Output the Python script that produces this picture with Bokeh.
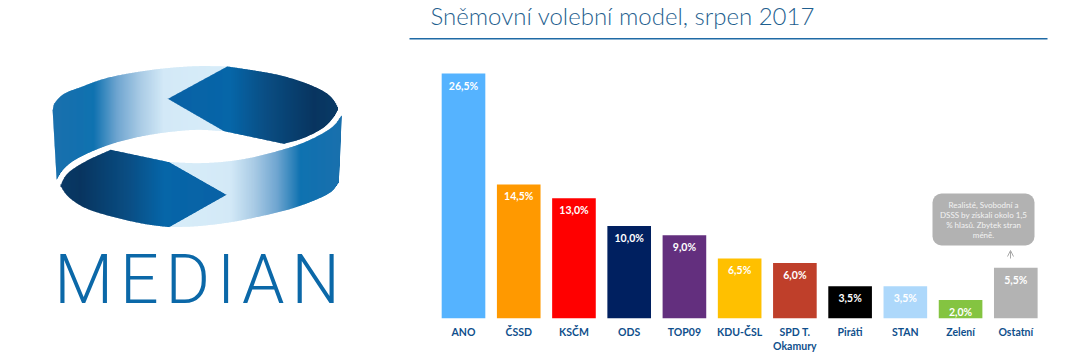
from bokeh.plotting import figure
from bokeh.layouts import row
from bokeh.embed import file_html
from bokeh.resources import INLINE
from bokeh.models import Range1d, FixedTicker, Label, BoxAnnotation, Arrow, OpenHead, ColumnDataSource
from bokeh.core.properties import value
import numpy as np

# ---------- chart data ----------
parties = ["ANO", "ČSSD", "KSČM", "ODS", "TOP09", "KDU-ČSL", "SPD T.\nOkamury", "Piráti", "STAN", "Zelení", "Ostatní"]
shares = [26.5, 14.5, 13.0, 10.0, 9.0, 6.5, 6.0, 3.5, 3.5, 2.0, 5.5]
share_labels = ["26,5%", "14,5%", "13,0%", "10,0%", "9,0%", "6,5%", "6,0%", "3,5%", "3,5%", "2,0%", "5,5%"]
bar_colors = ["#55b3ff", "#ff9900", "#ff0000", "#002060", "#632f7e", "#ffc000", "#bf3f2a", "#000000", "#add8fb", "#84c441", "#b3b3b3"]
title_text = "Sněmovní volební model, srpen 2017"
note_lines = ["Realisté, Svobodní a", "DSSS by získali okolo 1,5", "% hlasů. Zbytek stran", "méně."]
logo_word = "M\u200aE\u200aD\u200aI\u200aA\u200aN"

H = 357
LEFT_W = 400
RIGHT_W = 660
BASE_PAGE_Y = 318


# ---------- logo (decoration, in zoomed-reference pixel coordinates) ----------
def smooth(pts, n=14):
    pts = np.array(pts, float)
    p = np.vstack([2 * pts[0] - pts[1], pts, 2 * pts[-1] - pts[-2]])
    out = []
    for i in range(1, len(p) - 2):
        for t in np.linspace(0, 1, n, endpoint=False):
            a, b, c, d = p[i - 1], p[i], p[i + 1], p[i + 2]
            out.append(0.5 * (2 * b + (c - a) * t + (2 * a - 5 * b + 4 * c - d) * t**2 + (3 * b - a - 3 * c + d) * t**3))
    out.append(pts[-1])
    return out


def shape(*pieces):
    o = []
    for piece in pieces:
        o += smooth(piece)
    a = np.array(o)
    return 30 + a[:, 0] / 3, 60 + a[:, 1] / 3


band_l = ["#1a70ad", "#0f72b0", "#6fa5d0", "#a9cbe5", "#d3e9f7", "#d8edf9"]
dark = ["#0a3a66", "#083560", "#0a4f85", "#0666a8", "#0a62a6"]

logo_shapes = [
    (shape([(78, 358), (66, 150)],
           [(66, 150), (72, 128), (100, 100), (150, 80), (220, 55), (300, 38), (400, 24), (500, 17), (590, 18)],
           [(590, 18), (412, 115)], [(412, 115), (580, 212)],
           [(580, 212), (500, 208), (420, 214), (340, 226), (260, 245), (190, 270), (130, 300), (95, 330), (78, 358)]),
     [66, 190, 260, 330, 400, 600], band_l),
    (shape([(590, 18), (412, 115)], [(412, 115), (580, 212)], [(580, 212), (760, 250)],
           [(760, 250), (820, 232), (880, 200), (915, 160), (918, 135), (890, 100), (830, 70), (750, 45), (670, 30), (590, 18)]),
     [412, 600, 700, 850, 920], dark[::-1]),
    (shape([(933, 165), (925, 365)],
           [(925, 365), (900, 395), (850, 420), (780, 445), (700, 465), (600, 485), (500, 497), (415, 500)],
           [(415, 500), (587, 403)], [(587, 403), (415, 305)],
           [(415, 305), (500, 308), (580, 304), (660, 292), (740, 272), (810, 250), (870, 222), (910, 195), (933, 165)]),
     [415, 600, 670, 740, 810, 935], band_l[::-1]),
    (shape([(240, 268), (415, 305)], [(415, 305), (587, 403)], [(587, 403), (415, 500)],
           [(415, 500), (340, 490), (250, 470), (170, 445), (120, 415), (95, 385), (92, 370), (115, 335), (170, 300), (240, 268)]),
     [90, 150, 300, 400, 590], dark),
]


def hex_rgb(h):
    return np.array([int(h[i:i + 2], 16) for i in (1, 3, 5)], float)


def grad(zx, stops, cols):
    c = np.array([hex_rgb(k) for k in cols])
    return "#%02x%02x%02x" % tuple(int(round(np.interp(zx, stops, c[:, j]))) for j in range(3))


def crossings(px, py, x):
    x0, x1 = px[:-1], px[1:]
    m = (x0 <= x) != (x1 <= x)
    ys = py[:-1][m] + (x - x0[m]) / (x1[m] - x0[m]) * (py[1:][m] - py[:-1][m])
    return np.sort(ys)


sx, sy, sc = [], [], []
OVER = 0.5
for (px, py), stops, cols in logo_shapes:
    px = np.append(px, px[0])
    py = np.append(py, py[0])
    for x in range(int(px.min()), int(px.max()) + 1):
        a = crossings(px, py, x + 0.001)
        b = crossings(px, py, x + 0.999)
        col = grad((x + 0.5 - 30) * 3, stops, cols)
        if len(a) == len(b) and len(a) >= 2:
            for i in range(0, len(a) - 1, 2):
                sx.append([x, x + 1 + OVER, x + 1 + OVER, x])
                sy.append([a[i], b[i], b[i + 1], a[i + 1]])
                sc.append(col)
        else:
            c = crossings(px, py, x + 0.5)
            for i in range(0, len(c) - 1, 2):
                sx.append([x, x + 1 + OVER, x + 1 + OVER, x])
                sy.append([c[i], c[i], c[i + 1], c[i + 1]])
                sc.append(col)

logo = figure(width=LEFT_W, height=H, toolbar_location=None, output_backend="svg",
              x_range=Range1d(0, LEFT_W), y_range=Range1d(BASE_PAGE_Y, 0), min_border=0,
              min_border_bottom=H - BASE_PAGE_Y, outline_line_color=None)
logo.axis.visible = False
logo.grid.visible = False
logo.patches(sx, sy, fill_color=sc, fill_alpha=1.0, line_color=None)
logo.add_layout(Label(x=196.5, y=279, text=logo_word, text_font="'Roboto Light', Roboto", text_font_size="68px",
                      text_color="#0b68a8", text_align="center", text_baseline="alphabetic"))

# ---------- chart ----------
PX_PER_UNIT = 9.245
ch_top_units = BASE_PAGE_Y / PX_PER_UNIT
BAND = 55.23
FIRST_C = 463.0
x_start = -(FIRST_C - LEFT_W) / BAND
x_end = x_start + RIGHT_W / BAND

p = figure(width=RIGHT_W, height=H, toolbar_location=None, output_backend="svg",
           x_range=Range1d(x_start, x_end), y_range=Range1d(0, ch_top_units),
           min_border_left=0, min_border_right=0, min_border_top=0,
           min_border_bottom=H - BASE_PAGE_Y, outline_line_color=None)
p.grid.visible = False
p.yaxis.visible = False
xs = list(range(len(parties)))
src = ColumnDataSource(dict(x=xs, top=shares, color=bar_colors, label=share_labels))
p.vbar(x="x", top="top", bottom=0, width=0.79, fill_color="color", line_color=None, source=src)
p.text(x="x", y="top", text="label", source=src, text_color="#ffffff", text_font=value("Lato"),
       text_font_style="bold", text_font_size="10.5px", text_align="center", text_baseline="middle", y_offset=12)

ax = p.xaxis[0]
ax.ticker = FixedTicker(ticks=xs)
ax.major_label_overrides = dict(zip(xs, parties))
ax.major_tick_line_color = None
ax.minor_tick_line_color = None
ax.axis_line_color = None
ax.major_label_standoff = 1
ax.major_label_text_font = "Lato"
ax.major_label_text_font_style = "bold"
ax.major_label_text_font_size = "10.5px"
ax.major_label_text_color = "#0f4f8c"


# annotation screen units here run from the frame's bottom-left corner
def sX(page_x):
    return page_x - LEFT_W


def sY(page_y):
    return BASE_PAGE_Y - page_y


p.add_layout(Label(x=sX(430), y=sY(15), x_units="screen", y_units="screen", text=title_text,
                   text_font="'Lato Light', Lato", text_font_size="24px", text_color="#1f5f8f",
                   text_align="left", text_baseline="middle"))
p.add_layout(BoxAnnotation(left=sX(409), right=sX(1047), top=sY(37.5), bottom=sY(39),
                           left_units="screen", right_units="screen", top_units="screen", bottom_units="screen",
                           fill_color="#1f6aa5", fill_alpha=1, line_color=None, level="overlay"))
p.add_layout(BoxAnnotation(left=sX(932), right=sX(1034), top=sY(193), bottom=sY(245),
                           left_units="screen", right_units="screen", top_units="screen", bottom_units="screen",
                           fill_color="#b2b2b2", fill_alpha=1, line_color=None, border_radius=9))
for i, line in enumerate(note_lines):
    p.add_layout(Label(x=sX(983), y=sY(204 + i * 10), x_units="screen", y_units="screen", text=line,
                       text_font="Lato", text_font_size="8px", text_color="#f2f2f2",
                       text_align="center", text_baseline="middle"))
p.add_layout(Arrow(end=OpenHead(size=6, line_color="#a8a8a8", line_width=1), line_color="#a8a8a8", line_width=1,
                   x_start=sX(1010), y_start=sY(258), x_end=sX(1010), y_end=sY(250),
                   start_units="screen", end_units="screen"))

open("out.html", "w").write(file_html(row(logo, p, spacing=0), INLINE))
